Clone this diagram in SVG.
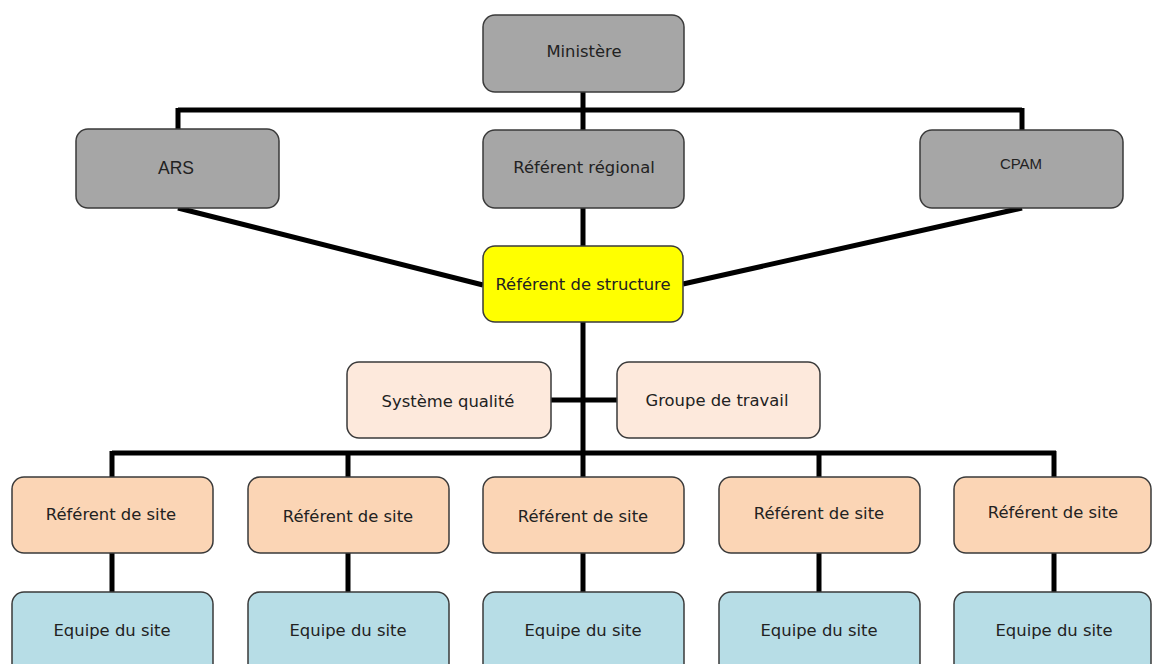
<svg xmlns="http://www.w3.org/2000/svg" width="1152" height="664" viewBox="0 0 1152 664">
<style>
.box{stroke:#3a3a3a;stroke-width:1.5}
.g{fill:#a6a6a6}
.y{fill:#ffff00}
.p{fill:#fde9dc}
.s{fill:#fbd5b5}
.b{fill:#b7dde6}
.t{font-family:"DejaVu Sans",sans-serif;font-size:16.4px;fill:#222;text-anchor:middle;dominant-baseline:central}
.a{font-family:"Liberation Sans",Arial,sans-serif;text-anchor:middle;dominant-baseline:central;fill:#222}
.c{stroke:#000;stroke-width:5;fill:none}
</style>
<rect width="1152" height="664" fill="#fff"/>
<g id="connectors">
<path class="c" d="M583 92V110M178 110H1022M178 108V129M583 108V130M1022 108V130"/>
<path class="c" d="M583 208V246M583 322V453M551 400H617M112 453H1056"/>
<path class="c" d="M178 208L483 285M1022 208L683 284"/>
<path class="c" d="M112 451V477M348 451V477M583 451V477M819 451V477M1054 451V477"/>
<path class="c" d="M112 553V592M348 553V592M583 553V592M819 553V592M1054 553V592"/>
</g>
<g id="ministere"><rect class="box g" x="483" y="15" width="201" height="77" rx="12"/><text class="t" x="584" y="51">Ministère</text></g>
<g id="ars"><rect class="box g" x="76" y="129" width="203" height="79" rx="12"/><text class="a" x="176" y="168" font-size="17.5">ARS</text></g>
<g id="referent-regional"><rect class="box g" x="483" y="130" width="201" height="78" rx="12"/><text class="t" x="584" y="167">Référent régional</text></g>
<g id="cpam"><rect class="box g" x="920" y="130" width="203" height="78" rx="12"/><text class="a" x="1021" y="163" font-size="15">CPAM</text></g>
<g id="referent-structure"><rect class="box y" x="483" y="246" width="200" height="76" rx="12"/><text class="t" x="583" y="284">Référent de structure</text></g>
<g id="systeme-qualite"><rect class="box p" x="347" y="362" width="204" height="76" rx="12"/><text class="t" x="448" y="401">Système qualité</text></g>
<g id="groupe-travail"><rect class="box p" x="617" y="362" width="203" height="76" rx="12"/><text class="t" x="717" y="400">Groupe de travail</text></g>
<g id="site1"><rect class="box s" x="12" y="477" width="201" height="76" rx="12"/><text class="t" x="111" y="514">Référent de site</text></g>
<g id="site2"><rect class="box s" x="248" y="477" width="201" height="76" rx="12"/><text class="t" x="348" y="516">Référent de site</text></g>
<g id="site3"><rect class="box s" x="483" y="477" width="201" height="76" rx="12"/><text class="t" x="583" y="516">Référent de site</text></g>
<g id="site4"><rect class="box s" x="719" y="477" width="201" height="76" rx="12"/><text class="t" x="819" y="513">Référent de site</text></g>
<g id="site5"><rect class="box s" x="954" y="477" width="197" height="76" rx="12"/><text class="t" x="1053" y="512">Référent de site</text></g>
<g id="equipe1"><rect class="box b" x="12" y="592" width="201" height="90" rx="12"/><text class="t" x="112" y="630">Equipe du site</text></g>
<g id="equipe2"><rect class="box b" x="248" y="592" width="201" height="90" rx="12"/><text class="t" x="348" y="630">Equipe du site</text></g>
<g id="equipe3"><rect class="box b" x="483" y="592" width="201" height="90" rx="12"/><text class="t" x="583" y="630">Equipe du site</text></g>
<g id="equipe4"><rect class="box b" x="719" y="592" width="201" height="90" rx="12"/><text class="t" x="819" y="630">Equipe du site</text></g>
<g id="equipe5"><rect class="box b" x="954" y="592" width="197" height="90" rx="12"/><text class="t" x="1054" y="630">Equipe du site</text></g>
</svg>
